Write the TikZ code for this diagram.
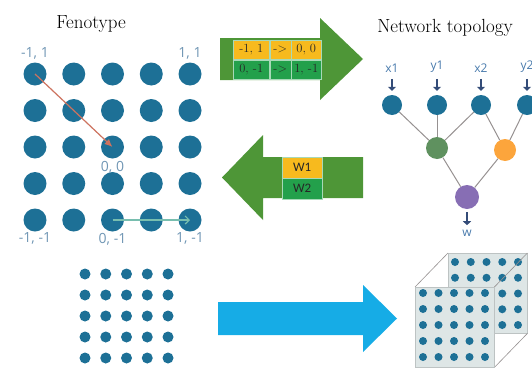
\documentclass[tikz,border=0pt]{standalone}
\usepackage{fontspec}
\newfontfamily\lblfont{Open Sans}
\newfontfamily\cellfont{Carlito}
\usetikzlibrary{arrows.meta,positioning,calc}
\definecolor{dotblue}{RGB}{29,112,150}
\definecolor{lblgray}{RGB}{112,150,180}
\definecolor{netlbl}{RGB}{72,122,172}
\definecolor{navy}{RGB}{52,76,120}
\definecolor{arrgreen}{RGB}{78,150,55}
\definecolor{cellyel}{RGB}{247,186,30}
\definecolor{cellgrn}{RGB}{35,160,75}
\definecolor{bigblue}{RGB}{22,172,230}
\definecolor{redarr}{RGB}{205,115,95}
\definecolor{tealarr}{RGB}{120,190,175}
\definecolor{edgegray}{RGB}{150,145,145}
\definecolor{hgreen}{RGB}{95,145,95}
\definecolor{horange}{RGB}{252,165,60}
\definecolor{hpurple}{RGB}{135,110,180}
\definecolor{panelfill}{RGB}{222,230,230}

\begin{document}
\begin{tikzpicture}[
  x=1pt,y=-1pt,
  title/.style={font=\fontsize{19}{22}\selectfont,anchor=base},
  lbl/.style={font=\lblfont\fontsize{14}{16}\selectfont,text=lblgray,inner sep=1pt},
  netl/.style={font=\lblfont\fontsize{12}{14}\selectfont,text=netlbl,inner sep=1pt},
  bdot/.style={circle,fill=dotblue,inner sep=0pt,minimum size=23pt},
  sdot/.style={circle,fill=dotblue,inner sep=0pt,minimum size=11pt},
  pdot/.style={circle,fill=dotblue,inner sep=0pt,minimum size=8pt},
  neuron/.style={circle,inner sep=0pt,minimum size=20pt},
  cell/.style={inner sep=0pt,minimum height=19pt,draw=white!60!cellgrn,line width=0.5pt,
               font=\fontsize{12.5}{13}\selectfont,text=black!85},
  ycell/.style={cell,fill=cellyel},
  gcell/.style={cell,fill=cellgrn},
  panel/.style={fill=panelfill,draw=panelfill!85!black,line width=0.4pt,inner sep=0pt,
                minimum width=79pt,minimum height=80pt},
  edge/.style={draw=edgegray,line width=1pt},
  inarr/.style={draw=navy,line width=2pt,-{Triangle[length=4pt,width=8pt]}},
  mv/.style={line width=1.2pt}]

\useasboundingbox (0,0) rectangle (532,367);
\clip (0,0) rectangle (532,367);

% fenotype grid
\node[title] (tFen) at (91,28) {Fenotype};
\foreach \i in {1,...,5}
  \foreach \j in {1,...,5}
    \node[bdot] (d-\i-\j) at ({35+38.75*(\j-1)},{74+36.5*(\i-1)}) {};
\node[lbl,above=2pt of d-1-1] (l11) {-1, 1};
\node[lbl,above=2pt of d-1-5] (l15) {1, 1};
\node[lbl,below=1pt of d-3-3] (l33) {0, 0};
\node[lbl,below=0pt of d-5-1] (l51) {-1, -1};
\node[lbl,below=0pt of d-5-3] (l53) {0, -1};
\node[lbl,below=0pt of d-5-5] (l55) {1, -1};
\draw[mv,redarr,-{Latex[length=8pt,width=7pt]}] (d-1-1.center) -- (d-3-3.center);
\draw[mv,tealarr,-{Straight Barb[length=4pt,width=8pt]}] (d-5-3.center) -- (d-5-5.center);

% green arrows with tables
\fill[arrgreen] (220,38) -- (320,38) -- (320,18) -- (363,59) -- (320,100) -- (320,80) -- (220,80) -- cycle;
\node[ycell,minimum width=36pt,anchor=north west] (c11) at (233,40) {-1, 1};
\node[ycell,minimum width=21pt,right=0pt of c11] (c12) {->};
\node[ycell,minimum width=30pt,right=0pt of c12] (c13) {0, 0};
\node[gcell,minimum width=36pt,below=0pt of c11] (c21) {0, -1};
\node[gcell,minimum width=21pt,below=0pt of c12] (c22) {->};
\node[gcell,minimum width=30pt,below=0pt of c13] (c23) {1, -1};

\fill[arrgreen] (363,157) -- (263,157) -- (263,135) -- (222,177.5) -- (263,220) -- (263,198) -- (363,198) -- cycle;
\node[ycell,minimum width=40pt,minimum height=20.5pt,anchor=north west,font=\cellfont\fontsize{13}{14}\selectfont] (w1) at (282,157) {W1};
\node[gcell,minimum width=40pt,minimum height=20.5pt,below=0pt of w1,font=\cellfont\fontsize{13}{14}\selectfont] (w2) {W2};

% network topology
\node[title] (tNet) at (445,32) {Network topology};
\node[neuron,fill=dotblue] (x1) at (392,105) {};
\node[neuron,fill=dotblue] (y1) at (437,105) {};
\node[neuron,fill=dotblue] (x2) at (481,105) {};
\node[neuron,fill=dotblue] (y2) at (527,105) {};
\node[neuron,fill=hgreen,minimum size=22pt] (hA) at (437,148) {};
\node[neuron,fill=horange,minimum size=22pt] (hB) at (505,150) {};
\node[neuron,fill=hpurple,minimum size=24pt] (out) at (467,197) {};
\foreach \n in {x1,y1,x2,y2} {
  \node[netl,above=21pt of \n] (l\n) {\n};
  \draw[inarr,shorten <=5pt,shorten >=4pt] (l\n) -- (\n);
}
\node[netl,below=20pt of out] (lw) {w};
\draw[inarr,shorten <=3pt,shorten >=4pt] (out) -- (lw);
\foreach \a/\b in {x1/hA,y1/hA,x2/hA,x2/hB,y2/hB,hA/out,hB/out}
  \draw[edge] (\a) -- (\b);

% small grid and blue arrow
\foreach \i in {1,...,5}
  \foreach \j in {1,...,5}
    \node[sdot] (s-\i-\j) at ({85+20.75*(\j-1)},{274+21*(\i-1)}) {};
\fill[bigblue] (218,302) -- (363,302) -- (363,285) -- (397,318.5) -- (363,352) -- (363,335) -- (218,335) -- cycle;

% stacked panels
\node[panel,anchor=north west] (pB) at (448,253) {};
\foreach \i in {1,...,5}
  \foreach \j in {1,...,5}
    \node[pdot] (b-\i-\j) at ({455+15.75*(\j-1)},{262+15.75*(\i-1)}) {};
\node[panel,anchor=north west,fill=none,draw=none] (pF0) at (415,287) {};
\draw[edgegray,line width=0.6pt] (pF0.north west) -- (pB.north west);
\draw[edgegray,line width=0.6pt] (pF0.north east) -- (pB.north east);
\draw[edgegray,line width=0.6pt] (pF0.south east) -- (pB.south east);
\node[panel,anchor=north west] (pF) at (415,287) {};
\foreach \i in {1,...,5}
  \foreach \j in {1,...,5}
    \node[pdot] (f-\i-\j) at ({423+15.5*(\j-1)},{293+16*(\i-1)}) {};
\end{tikzpicture}
\end{document}
